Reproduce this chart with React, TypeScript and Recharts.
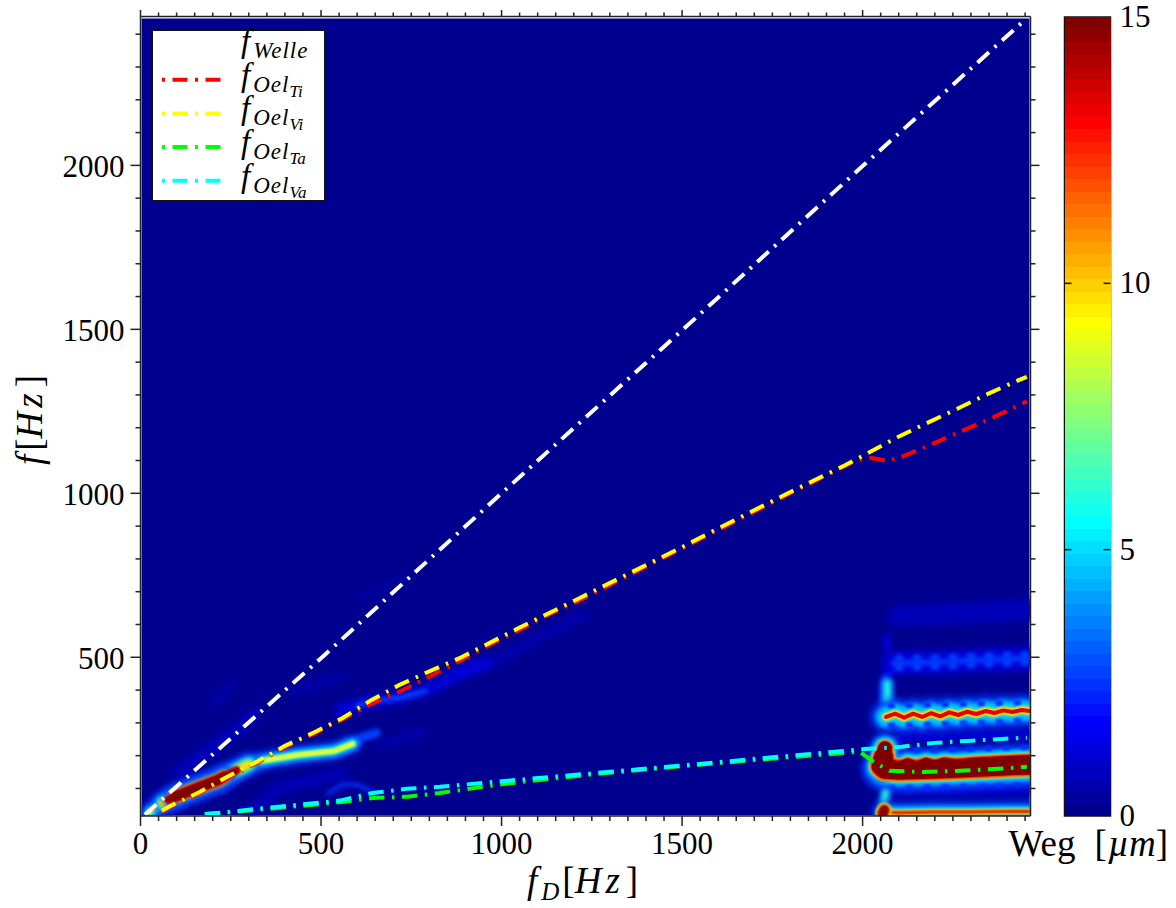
import {
  Bar,
  ComposedChart,
  Legend,
  Line,
  ReferenceArea,
  XAxis,
  YAxis,
} from 'recharts'

type Pt = { x: number; y: number }

const SERIF = '"Liberation Serif", "Times New Roman", serif'

const xTicks = [0, 50, 100, 150, 200, 250, 300, 350, 400, 450, 500, 550, 600, 650, 700, 750, 800, 850, 900, 950, 1000, 1050, 1100, 1150, 1200, 1250, 1300, 1350, 1400, 1450, 1500, 1550, 1600, 1650, 1700, 1750, 1800, 1850, 1900, 1950, 2000, 2050, 2100, 2150, 2200, 2250, 2300, 2350, 2400, 2450]
const yTicks = [100, 200, 300, 400, 500, 600, 700, 800, 900, 1000, 1100, 1200, 1300, 1400, 1500, 1600, 1700, 1800, 1900, 2000, 2100, 2200, 2300, 2400]
const colorTicks = [0, 5, 10, 15]

const seriesMain = ['Welle', 'Oel', 'Oel', 'Oel', 'Oel']
const seriesSub = ['', 'Ti', 'Vi', 'Ta', 'Va']

const welle: Pt[] = [
  { x: 12, y: 20 }, { x: 500, y: 497 }, { x: 1000, y: 1000 }, { x: 1500, y: 1497 }, { x: 2000, y: 1998 }, { x: 2452, y: 2446 },
]
const oelTi: Pt[] = [
  { x: 59, y: 29 }, { x: 89, y: 47 }, { x: 164, y: 86 }, { x: 239, y: 132 }, { x: 322, y: 178 }, { x: 400, y: 226 },
  { x: 483, y: 268 }, { x: 560, y: 311 }, { x: 640, y: 358 }, { x: 726, y: 400 }, { x: 806, y: 444 }, { x: 890, y: 492 },
  { x: 968, y: 538 }, { x: 1045, y: 580 }, { x: 1128, y: 629 }, { x: 1208, y: 669 }, { x: 1500, y: 832 }, { x: 1800, y: 1000 },
  { x: 1985, y: 1102 }, { x: 2020, y: 1108 }, { x: 2045, y: 1104 }, { x: 2067, y: 1098 }, { x: 2108, y: 1111 }, { x: 2192, y: 1150 },
  { x: 2275, y: 1190 }, { x: 2358, y: 1230 }, { x: 2436, y: 1270 }, { x: 2455, y: 1281 },
]
const oelVi: Pt[] = [
  { x: 59, y: 32 }, { x: 89, y: 50 }, { x: 164, y: 89 }, { x: 239, y: 135 }, { x: 322, y: 181 }, { x: 400, y: 230 },
  { x: 483, y: 272 }, { x: 560, y: 315 }, { x: 640, y: 370 }, { x: 718, y: 416 }, { x: 796, y: 455 }, { x: 885, y: 498 },
  { x: 1042, y: 586 }, { x: 1217, y: 681 }, { x: 1500, y: 836 }, { x: 1600, y: 893 }, { x: 1800, y: 1004 }, { x: 1950, y: 1085 },
  { x: 2015, y: 1123 }, { x: 2098, y: 1172 }, { x: 2178, y: 1214 }, { x: 2261, y: 1257 }, { x: 2341, y: 1300 }, { x: 2421, y: 1340 }, { x: 2455, y: 1355 },
]
const oelTa: Pt[] = [
  { x: 178, y: 21 }, { x: 317, y: 34 }, { x: 408, y: 43 }, { x: 552, y: 58 }, { x: 643, y: 71 }, { x: 738, y: 75 }, { x: 829, y: 86 },
  { x: 1000, y: 113 }, { x: 1250, y: 143 }, { x: 1500, y: 168 }, { x: 1750, y: 191 }, { x: 1992, y: 212 }, { x: 2015, y: 193 },
  { x: 2035, y: 178 }, { x: 2075, y: 154 }, { x: 2167, y: 150 }, { x: 2270, y: 154 }, { x: 2362, y: 159 }, { x: 2455, y: 166 },
]
const oelVa: Pt[] = [
  { x: 178, y: 22 }, { x: 220, y: 26 }, { x: 317, y: 37 }, { x: 408, y: 47 }, { x: 552, y: 63 }, { x: 643, y: 86 }, { x: 738, y: 99 }, { x: 829, y: 105 },
  { x: 1000, y: 122 }, { x: 1250, y: 146 }, { x: 1500, y: 170 }, { x: 1750, y: 195 }, { x: 2006, y: 220 }, { x: 2108, y: 227 },
  { x: 2200, y: 239 }, { x: 2291, y: 245 }, { x: 2385, y: 251 }, { x: 2455, y: 255 },
]

// ridges of the amplitude map
const lowRidge: Pt[] = [
  { x: 26, y: 28 }, { x: 76, y: 65 }, { x: 142, y: 95 }, { x: 214, y: 125 }, { x: 256, y: 150 }, { x: 294, y: 172 }, { x: 350, y: 187 },
  { x: 433, y: 202 }, { x: 536, y: 214 }, { x: 588, y: 236 },
]
const lowRidgeTail: Pt[] = [{ x: 560, y: 222 }, { x: 588, y: 236 }, { x: 616, y: 257 }, { x: 654, y: 269 }]
const lowRidgeLong: Pt[] = [{ x: 62, y: 56 }, { x: 142, y: 95 }, { x: 214, y: 125 }, { x: 256, y: 150 }, { x: 300, y: 174 }]
const lowRidgeHot: Pt[] = [{ x: 95, y: 75 }, { x: 142, y: 95 }, { x: 214, y: 125 }, { x: 232, y: 136 }]
const lowRidgeCore: Pt[] = [{ x: 78, y: 66 }, { x: 142, y: 95 }, { x: 214, y: 125 }, { x: 266, y: 155 }]
const midRidge: Pt[] = [{ x: 885, y: 452 }, { x: 1003, y: 501 }, { x: 1142, y: 583 }, { x: 1225, y: 629 }]
const midRidgeNear: Pt[] = [{ x: 552, y: 340 }, { x: 635, y: 364 }, { x: 726, y: 379 }, { x: 809, y: 407 }, { x: 885, y: 452 }, { x: 960, y: 482 }]
const midRidgeBright: Pt[] = [{ x: 600, y: 352 }, { x: 635, y: 364 }, { x: 726, y: 379 }, { x: 790, y: 398 }]
const faintA: Pt[] = [{ x: 110, y: 150 }, { x: 250, y: 265 }, { x: 320, y: 330 }]
const faintB: Pt[] = [{ x: 200, y: 360 }, { x: 250, y: 415 }]
const faintC: Pt[] = [{ x: 420, y: 395 }, { x: 560, y: 440 }]
const faintD: Pt[] = [{ x: 670, y: 235 }, { x: 780, y: 270 }]
const faintE: Pt[] = [{ x: 610, y: 680 }, { x: 745, y: 745 }]
const lowArc: Pt[] = [{ x: 520, y: 85 }, { x: 560, y: 112 }, { x: 600, y: 112 }, { x: 650, y: 85 }]
const lowFan: Pt[] = [{ x: 300, y: 25 }, { x: 390, y: 105 }, { x: 560, y: 145 }]

const blockUpper: Pt[] = [
  { x: 2065, y: 318 }, { x: 2090, y: 328 }, { x: 2115, y: 316 }, { x: 2140, y: 328 }, { x: 2165, y: 318 }, { x: 2190, y: 330 }, { x: 2215, y: 320 },
  { x: 2240, y: 332 }, { x: 2265, y: 324 }, { x: 2290, y: 334 }, { x: 2315, y: 327 }, { x: 2340, y: 336 }, { x: 2365, y: 330 }, { x: 2390, y: 338 },
  { x: 2415, y: 333 }, { x: 2440, y: 339 }, { x: 2462, y: 336 },
]
const blockUpperAbove: Pt[] = [{ x: 2070, y: 352 }, { x: 2250, y: 356 }, { x: 2462, y: 362 }]
const blockUpperBelow: Pt[] = [{ x: 2070, y: 292 }, { x: 2250, y: 298 }, { x: 2462, y: 308 }]
const blockMain: Pt[] = [{ x: 2060, y: 158 }, { x: 2100, y: 155 }, { x: 2200, y: 158 }, { x: 2300, y: 162 }, { x: 2400, y: 168 }, { x: 2462, y: 170 }]
const blockMainTop: Pt[] = [
  { x: 2075, y: 182 }, { x: 2100, y: 174 }, { x: 2125, y: 184 }, { x: 2150, y: 174 }, { x: 2175, y: 186 }, { x: 2200, y: 177 }, { x: 2225, y: 186 }, { x: 2260, y: 180 }, { x: 2310, y: 186 }, { x: 2380, y: 190 }, { x: 2462, y: 194 },
]
const blockMainAbove: Pt[] = [{ x: 2090, y: 216 }, { x: 2250, y: 218 }, { x: 2462, y: 226 }]
const blockMainBelow: Pt[] = [{ x: 2070, y: 102 }, { x: 2250, y: 106 }, { x: 2462, y: 112 }]
const blockBulge: Pt[] = [{ x: 2046, y: 165 }, { x: 2056, y: 190 }, { x: 2062, y: 222 }]
const blockBulgeFoot: Pt[] = [{ x: 2052, y: 170 }, { x: 2058, y: 195 }]
const blockBottom: Pt[] = [{ x: 2055, y: 28 }, { x: 2100, y: 26 }, { x: 2200, y: 28 }, { x: 2300, y: 28 }, { x: 2400, y: 30 }, { x: 2462, y: 30 }]
const blockDome: Pt[] = [{ x: 2056, y: 24 }, { x: 2060, y: 34 }]
const blockStem: Pt[] = [{ x: 2058, y: 50 }, { x: 2064, y: 88 }]
const blockBlob: Pt[] = [{ x: 2068, y: 365 }, { x: 2068, y: 420 }]
const blockLink: Pt[] = [{ x: 2052, y: 300 }, { x: 2060, y: 440 }, { x: 2105, y: 482 }]
const blockBeads: Pt[] = [{ x: 2085, y: 482 }, { x: 2200, y: 485 }, { x: 2300, y: 490 }, { x: 2462, y: 497 }]
const blockBeadsAbove: Pt[] = [{ x: 2090, y: 497 }, { x: 2250, y: 501 }, { x: 2462, y: 510 }]
const blockBeadsBelow: Pt[] = [{ x: 2090, y: 467 }, { x: 2250, y: 473 }, { x: 2462, y: 484 }]
const blockFaintTop: Pt[] = [{ x: 2100, y: 625 }, { x: 2300, y: 635 }, { x: 2462, y: 645 }]
const blockFaintCol: Pt[] = [{ x: 2068, y: 525 }, { x: 2068, y: 562 }]
const blockFaintMid: Pt[] = [{ x: 2100, y: 258 }, { x: 2300, y: 262 }, { x: 2462, y: 265 }]
const blockFaintLow: Pt[] = [{ x: 2100, y: 90 }, { x: 2300, y: 92 }, { x: 2462, y: 92 }]

const colorbarColors = [
  '#00008F', '#00009F', '#0000AF', '#0000BF', '#0000CF', '#0000DF', '#0000EF', '#0000FF',
  '#0010FF', '#0020FF', '#0030FF', '#0040FF', '#0050FF', '#0060FF', '#0070FF', '#0080FF',
  '#008FFF', '#009FFF', '#00AFFF', '#00BFFF', '#00CFFF', '#00DFFF', '#00EFFF', '#00FFFF',
  '#10FFEF', '#20FFDF', '#30FFCF', '#40FFBF', '#50FFAF', '#60FF9F', '#70FF8F', '#80FF80',
  '#8FFF70', '#9FFF60', '#AFFF50', '#BFFF40', '#CFFF30', '#DFFF20', '#EFFF10', '#FFFF00',
  '#FFEF00', '#FFDF00', '#FFCF00', '#FFBF00', '#FFAF00', '#FF9F00', '#FF8F00', '#FF8000',
  '#FF7000', '#FF6000', '#FF5000', '#FF4000', '#FF3000', '#FF2000', '#FF1000', '#FF0000',
  '#EF0000', '#DF0000', '#CF0000', '#BF0000', '#AF0000', '#9F0000', '#8F0000', '#800000',
]

const colorbarRow: Record<string, number | string> = { label: 'Weg' }
colorbarColors.forEach((_, i) => {
  colorbarRow[`b${i}`] = 15 / colorbarColors.length
})

// ridge, colour, stroke width in px, blur class, optional dash for the beaded flanks
const heatLayers: [Pt[], string, number, string, string?][] = [
  [faintA, '#0000b8', 14, 'b3'],
  [faintB, '#0000b0', 8, 'b3'],
  [faintC, '#0000a8', 10, 'b3'],
  [faintD, '#0000b0', 8, 'b3'],
  [faintE, '#0000a0', 10, 'b3'],
  [lowFan, '#0000b8', 12, 'b3'],
  [lowArc, '#0030ff', 4, 'b2'],
  [midRidge, '#0000b0', 10, 'b3'],
  [midRidgeNear, '#0000e0', 11, 'b3'],
  [midRidgeBright, '#0050ff', 4, 'b2'],
  [lowRidge, '#0040ff', 17, 'b3'],
  [lowRidgeTail, '#0040ff', 9, 'b2'],
  [lowRidge, '#00d0ff', 11, 'b2'],
  [lowRidge, '#a0ff60', 6, 'b1'],
  [lowRidge, '#ffff30', 2.5, 'b1'],
  [lowRidgeLong, '#0040ff', 22, 'b3'],
  [lowRidgeLong, '#00e0ff', 15, 'b2'],
  [lowRidgeLong, '#ffe000', 9, 'b2'],
  [lowRidgeHot, '#0040ff', 24, 'b3'],
  [lowRidgeHot, '#ffe000', 13, 'b2'],
  [lowRidgeCore, '#f00000', 8, 'b1'],
  [lowRidgeHot, '#f00000', 11, 'b1'],
  [lowRidgeCore, '#800000', 6, 'b1'],
  [lowRidgeHot, '#800000', 9.5, 'b1'],
  [blockFaintTop, '#0000b8', 22, 'b3'],
  [blockFaintCol, '#0000d0', 8, 'b2'],
  [blockFaintMid, '#0000e0', 9, 'b3'],
  [blockFaintLow, '#0000d0', 10, 'b3'],
  [blockLink, '#0020ff', 6, 'b2'],
  [blockBeads, '#0000e0', 22, 'b3'],
  [blockBeads, '#0040ff', 5, 'b2'],
  [blockBeadsAbove, '#0050ff', 5, 'b2', '8 10'],
  [blockBeadsBelow, '#0050ff', 5, 'b2', '8 10'],
  [blockBlob, '#0060ff', 14, 'b2'],
  [blockBlob, '#20f0e0', 7, 'b2'],
  [blockUpper, '#0040ff', 30, 'b3'],
  [blockUpper, '#00c8ff', 20, 'b2'],
  [blockUpperAbove, '#0030ff', 5, 'b1', '7 11'],
  [blockUpperBelow, '#0030ff', 5, 'b1', '7 11'],
  [blockUpper, '#ffe000', 8, 'b1'],
  [blockUpper, '#e80000', 4, 'b0'],
  [blockMain, '#0040ff', 42, 'b3'],
  [blockMain, '#00e0ff', 30, 'b2'],
  [blockMainTop, '#00e0ff', 14, 'b2'],
  [blockMainAbove, '#0030ff', 5, 'b1', '7 11'],
  [blockMainBelow, '#0030ff', 5, 'b1', '7 11'],
  [blockBulge, '#0040ff', 30, 'b3'],
  [blockBulge, '#00e0ff', 24, 'b2'],
  [blockBulgeFoot, '#ffe000', 24, 'b1'],
  [blockMain, '#ffe000', 23, 'b1'],
  [blockMainTop, '#ffe000', 9, 'b1'],
  [blockBulge, '#ffe000', 18, 'b1'],
  [blockBulgeFoot, '#f00000', 21, 'b1'],
  [blockMain, '#f00000', 20.5, 'b1'],
  [blockMainTop, '#f00000', 7, 'b1'],
  [blockBulge, '#f00000', 16, 'b1'],
  [blockMain, '#800000', 18, 'b0'],
  [blockMainTop, '#800000', 5, 'b0'],
  [blockBulge, '#800000', 14, 'b0'],
  [blockBulgeFoot, '#800000', 19, 'b0'],
  [blockStem, '#0060ff', 12, 'b2'],
  [blockStem, '#30f0d0', 6, 'b2'],
  [blockBottom, '#0040ff', 20, 'b3'],
  [blockBottom, '#00e0ff', 11, 'b2'],
  [blockBottom, '#ffe000', 6, 'b1'],
  [blockBottom, '#e80000', 3, 'b1'],
  [blockDome, '#ffe000', 15, 'b1'],
  [blockDome, '#900000', 11, 'b1'],
]

const dash = '15.5 7.5 2.5 7.5'

const mathText = { fontFamily: SERIF, fontStyle: 'italic' as const, fill: '#000' }

function BottomTick({ x, y, payload }: any) {
  const major = payload.value % 500 === 0
  return (
    <g>
      <line x1={x} x2={x} y1={y} y2={y + (major ? 10 : 5)} stroke="#222" strokeWidth={1.5} />
      {major && (
        <text x={x} y={y + 38} textAnchor="middle" fontFamily={SERIF} fontSize={31} fill="#000">
          {payload.value}
        </text>
      )}
    </g>
  )
}

function TopTick({ x, y, payload }: any) {
  const major = payload.value % 500 === 0
  return <line x1={x} x2={x} y1={y} y2={y - (major ? 6.5 : 4)} stroke="#222" strokeWidth={1.5} />
}

function LeftTick({ x, y, payload }: any) {
  const major = payload.value % 500 === 0
  return (
    <g>
      <line x1={x} x2={x - (major ? 10 : 5)} y1={y} y2={y} stroke="#222" strokeWidth={1.5} />
      {major && (
        <text x={x - 16} y={y + 12} textAnchor="end" fontFamily={SERIF} fontSize={31} fill="#000">
          {payload.value}
        </text>
      )}
    </g>
  )
}

function RightTick({ x, y, payload }: any) {
  const major = payload.value % 500 === 0
  return <line x1={x} x2={x + (major ? 9 : 5)} y1={y} y2={y} stroke="#222" strokeWidth={1.5} />
}

function XTitle() {
  return (
    <text x={527} y={893} {...mathText} fontSize={37}>
      f
      <tspan fontSize={25} dy={7} dx={4}>D</tspan>
      <tspan dy={-7} dx={3} fontStyle="normal">[</tspan>
      <tspan letterSpacing={4}>Hz</tspan>
      <tspan fontStyle="normal" dx={2}>]</tspan>
    </text>
  )
}

function YTitle() {
  return (
    <text transform="translate(42,465) rotate(-90)" {...mathText} fontSize={37}>
      f
      <tspan dx={4} fontStyle="normal">[</tspan>
      <tspan letterSpacing={4}>Hz</tspan>
      <tspan fontStyle="normal" dx={2}>]</tspan>
    </text>
  )
}

function PlotLegend({ payload }: any) {
  const rows = (payload ?? []).filter((p: any) => p.type !== 'none')
  return (
    <svg width={175} height={173} style={{ display: 'block', overflow: 'visible' }}>
      <rect x={1} y={1} width={173} height={171} fill="#fff" stroke="#111" strokeWidth={2} />
      {rows.map((row: any, i: number) => {
        const rowY = 17 + i * 33.7
        return (
          <g key={row.value}>
            <line x1={11} x2={71} y1={rowY} y2={rowY} stroke={row.color} strokeWidth={4} strokeDasharray="3 7.5 15 7.5" />
            <text x={90} y={rowY + 6} {...mathText} fontSize={33}>
              f
              <tspan fontSize={23} dy={6} dx={3} letterSpacing={1}>{seriesMain[i]}</tspan>
              {seriesSub[i] && <tspan fontSize={17} dy={5}>{seriesSub[i]}</tspan>}
            </text>
          </g>
        )
      })}
    </svg>
  )
}

function ColorTick({ x, y, payload }: any) {
  const inner = payload.value === 5 || payload.value === 10
  return (
    <g>
      {inner && (
        <>
          <line x1={x} x2={x - 7} y1={y} y2={y} stroke="#111" strokeWidth={1.5} />
          <line x1={x - 46} x2={x - 39} y1={y} y2={y} stroke="#111" strokeWidth={1.5} />
        </>
      )}
      <text x={x + 9} y={y + 10} fontFamily={SERIF} fontSize={31} fill="#000">
        {payload.value}
      </text>
    </g>
  )
}

function WegTick({ x, y }: any) {
  return (
    <text x={x - 79} y={y + 40} fontFamily={SERIF} fontSize={37} fill="#000">
      Weg
      <tspan dx={19}>[</tspan>
      <tspan fontStyle="italic" dx={1}>µm</tspan>
      ]
    </text>
  )
}

export default function App() {
  return (
    <div style={{ position: 'absolute', left: 0, top: 0, width: 1176, height: 908, background: '#fff' }}>
      <style>{`
        .b0 path { filter: blur(0.6px); }
        .b1 path { filter: blur(1px); }
        .b2 path { filter: blur(2px); }
        .b3 path { filter: blur(3.5px); }
      `}</style>
      <div style={{ position: 'absolute', left: 0, top: 0 }}>
        <ComposedChart width={1040} height={908} margin={{ top: 0, right: 0, bottom: 0, left: 0 }}>
          <XAxis
            xAxisId="bottom"
            type="number"
            dataKey="x"
            domain={[0, 2465]}
            allowDataOverflow
            ticks={xTicks}
            interval={0}
            height={92}
            tickSize={0}
            tickMargin={0}
            tickLine={false}
            tick={<BottomTick />}
            axisLine={{ stroke: '#222', strokeWidth: 1.5 }}
            label={<XTitle />}
          />
          <XAxis
            xAxisId="top"
            orientation="top"
            type="number"
            dataKey="x"
            domain={[0, 2465]}
            allowDataOverflow
            ticks={xTicks}
            interval={0}
            height={16.5}
            tickSize={0}
            tickMargin={0}
            tickLine={false}
            tick={<TopTick />}
            axisLine={{ stroke: '#222', strokeWidth: 1.5 }}
          />
          <YAxis
            yAxisId="left"
            type="number"
            domain={[16, 2454]}
            allowDataOverflow
            ticks={yTicks}
            interval={0}
            width={140.5}
            tickSize={0}
            tickMargin={0}
            tickLine={false}
            tick={<LeftTick />}
            axisLine={{ stroke: '#222', strokeWidth: 1.5 }}
            label={<YTitle />}
          />
          <YAxis
            yAxisId="right"
            orientation="right"
            type="number"
            domain={[16, 2454]}
            allowDataOverflow
            ticks={yTicks}
            interval={0}
            width={9.5}
            tickSize={0}
            tickMargin={0}
            tickLine={false}
            tick={<RightTick />}
            axisLine={{ stroke: '#222', strokeWidth: 1.5 }}
          />
          <ReferenceArea
            xAxisId="bottom"
            yAxisId="left"
            x1={3}
            x2={2462}
            y1={18}
            y2={2448}
            fill="#00008F"
            fillOpacity={1}
            stroke="none"
          />
          {heatLayers.map(([points, stroke, width, blur, beads], i) => (
            <Line
              key={i}
              xAxisId="bottom"
              yAxisId="left"
              data={points}
              dataKey="y"
              type="linear"
              className={blur}
              stroke={stroke}
              strokeWidth={width}
              strokeLinecap={beads ? 'butt' : 'round'}
              strokeLinejoin="round"
              strokeDasharray={beads}
              dot={false}
              activeDot={false}
              legendType="none"
              isAnimationActive={false}
            />
          ))}
          <Line xAxisId="bottom" yAxisId="left" data={welle} dataKey="y" name="f_Welle" type="linear" stroke="#ffffff" strokeWidth={4} strokeDasharray={dash} dot={false} activeDot={false} isAnimationActive={false} />
          <Line xAxisId="bottom" yAxisId="left" data={oelTi} dataKey="y" name="f_Oel_Ti" type="linear" stroke="#ff0000" strokeWidth={4} strokeDasharray={dash} dot={false} activeDot={false} isAnimationActive={false} />
          <Line xAxisId="bottom" yAxisId="left" data={oelVi} dataKey="y" name="f_Oel_Vi" type="linear" stroke="#ffff00" strokeWidth={4} strokeDasharray={dash} dot={false} activeDot={false} isAnimationActive={false} />
          <Line xAxisId="bottom" yAxisId="left" data={oelTa} dataKey="y" name="f_Oel_Ta" type="linear" stroke="#00ff00" strokeWidth={4} strokeDasharray={dash} dot={false} activeDot={false} isAnimationActive={false} />
          <Line xAxisId="bottom" yAxisId="left" data={oelVa} dataKey="y" name="f_Oel_Va" type="linear" stroke="#00ffff" strokeWidth={4} strokeDasharray={dash} dot={false} activeDot={false} isAnimationActive={false} />
          <Legend
            layout="vertical"
            align="center"
            verticalAlign="middle"
            itemSorter={null}
            content={<PlotLegend />}
            wrapperStyle={{ position: 'absolute', left: 151, top: 28.5, width: 175, height: 173 }}
          />
        </ComposedChart>
      </div>
      <div style={{ position: 'absolute', left: 1000, top: 0 }}>
        <ComposedChart
          width={176}
          height={908}
          data={[colorbarRow]}
          barCategoryGap={0}
          margin={{ top: 17, right: 0, bottom: 0, left: 64.5 }}
        >
          <XAxis
            dataKey="label"
            type="category"
            height={92}
            axisLine={false}
            tickLine={false}
            tickSize={0}
            tickMargin={0}
            tick={<WegTick />}
          />
          <YAxis
            orientation="right"
            type="number"
            domain={[0, 15]}
            ticks={colorTicks}
            interval={0}
            width={65.5}
            axisLine={false}
            tickLine={false}
            tickSize={0}
            tickMargin={0}
            tick={<ColorTick />}
          />
          {colorbarColors.map((color, i) => (
            <Bar key={color} dataKey={`b${i}`} stackId="scale" fill={color} shapeRendering="crispEdges" isAnimationActive={false} />
          ))}
          <ReferenceArea x1="Weg" x2="Weg" y1={0} y2={15} fill="none" stroke="#111" strokeWidth={1.5} />
        </ComposedChart>
      </div>
    </div>
  )
}
